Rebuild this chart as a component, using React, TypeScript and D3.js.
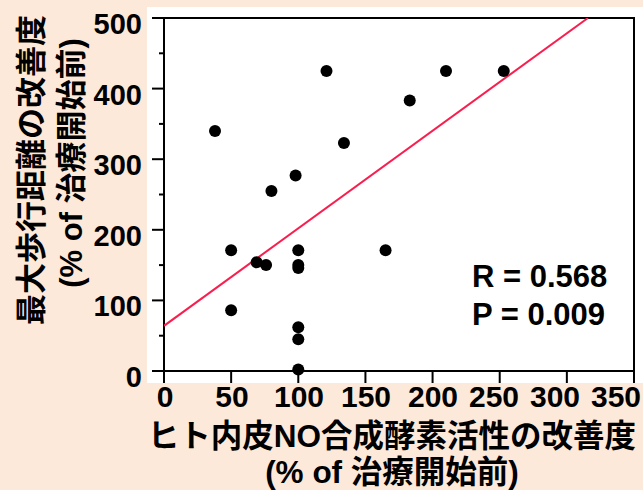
import React from "react";
import * as d3 from "d3";

// values
const xValues = [38, 121, 210, 253, 183, 134, 80, 98, 50, 100, 165, 69, 76, 100, 100, 50, 100, 100, 100];
const yValues = [340, 425, 425, 425, 383, 323, 255, 277, 171, 171, 171, 154, 150, 150, 146, 86, 62, 45, 2];
const xTicks = [0, 50, 100, 150, 200, 250, 300, 350];
const yTicks = [0, 100, 200, 300, 400, 500];
const yMinorTicks = [50, 150, 250, 350, 450];
const fitIntercept = 64;
const fitSlope = 1.381;
const statLines = ["R = 0.568", "P = 0.009"];
const xTitle = ["ヒト内皮NO合成酵素活性の改善度", "(% of 治療開始前)"];
const yTitle = ["最大歩行距離の改善度", "(% of 治療開始前)"];

const W = 643;
const H = 490;
const m = { left: 164, right: 634, top: 18, bottom: 371 };
const font = "'Liberation Sans', Arial, 'Noto Sans CJK JP', sans-serif";

export default function App() {
  const x = d3.scaleLinear().domain([0, 350]).range([m.left, m.right]);
  const y = d3.scaleLinear().domain([0, 500]).range([m.bottom, m.top]);
  // tick labels in the picture are squeezed toward the right end
  const xLabel = d3.scaleLinear().domain([0, 200, 350]).range([165, 433, 616]);

  const fitEnd = (500 - fitIntercept) / fitSlope;
  const fitLine = d3
    .line<number>()
    .x((d) => x(d))
    .y((d) => y(fitIntercept + fitSlope * d))([0, fitEnd]);

  return (
    <svg
      width={W}
      height={H}
      style={{ position: "absolute", left: 0, top: 0, display: "block" }}
      fontFamily={font}
      fontWeight="bold"
    >
      <rect x={0} y={0} width={W} height={H} fill="#fde9d9" />
      <rect x={147} y={7} width={W - 147} height={383 - 7} fill="#ffffff" />

      <defs>
        <clipPath id="plot">
          <rect x={m.left} y={m.top} width={m.right - m.left} height={m.bottom - m.top} />
        </clipPath>
      </defs>

      {/* frame */}
      <line x1={m.left - 12} x2={m.right + 1} y1={m.top} y2={m.top} stroke="#000" strokeWidth={2} />
      <line x1={m.right} x2={m.right} y1={m.top} y2={m.bottom} stroke="#000" strokeWidth={2} />
      <line x1={m.left} x2={m.left} y1={m.top} y2={m.bottom + 12} stroke="#000" strokeWidth={2} />
      <line x1={m.left - 12} x2={m.right + 1} y1={m.bottom} y2={m.bottom} stroke="#000" strokeWidth={2} />

      {/* y ticks */}
      {yTicks.map((t) => (
        <g key={"y" + t}>
          <line x1={m.left - 12} x2={m.left} y1={y(t)} y2={y(t)} stroke="#000" strokeWidth={2} />
          <text
            x={142}
            y={y(t) + 6}
            textAnchor="end"
            dominantBaseline="central"
            fontSize={29}
            fill="#000"
          >
            {t}
          </text>
        </g>
      ))}
      {yMinorTicks.map((t) => (
        <line key={"ym" + t} x1={m.left - 5} x2={m.left} y1={y(t)} y2={y(t)} stroke="#000" strokeWidth={2} />
      ))}

      {/* x ticks */}
      {xTicks.map((t) => (
        <g key={"x" + t}>
          <line x1={x(t)} x2={x(t)} y1={m.bottom} y2={m.bottom + 12} stroke="#000" strokeWidth={2} />
          <text x={xLabel(t)} y={407} textAnchor="middle" fontSize={30} fill="#000">
            {t}
          </text>
        </g>
      ))}

      {/* regression line */}
      <path d={fitLine ?? ""} stroke="#fa1e4e" strokeWidth={2} fill="none" clipPath="url(#plot)" />

      {/* points */}
      {xValues.map((v, i) => (
        <circle key={i} cx={x(v)} cy={y(yValues[i])} r={6} fill="#000" />
      ))}

      {/* stats */}
      {statLines.map((s, i) => (
        <text key={s} x={472} y={287 + i * 38} fontSize={31} fill="#000">
          {s}
        </text>
      ))}

      {/* x title */}
      {xTitle.map((s, i) => (
        <text key={s} x={392} y={447 + i * 36} textAnchor="middle" fontSize={31.5} fill="#000">
          {s}
        </text>
      ))}

      {/* y title */}
      {yTitle.map((s, i) => (
        <text
          key={s + i}
          transform={`translate(${31 + i * 40},${170 - i * 7}) rotate(-90)`}
          textAnchor="middle"
          dominantBaseline="central"
          fontSize={31}
          fill="#000"
        >
          {s}
        </text>
      ))}
    </svg>
  );
}
